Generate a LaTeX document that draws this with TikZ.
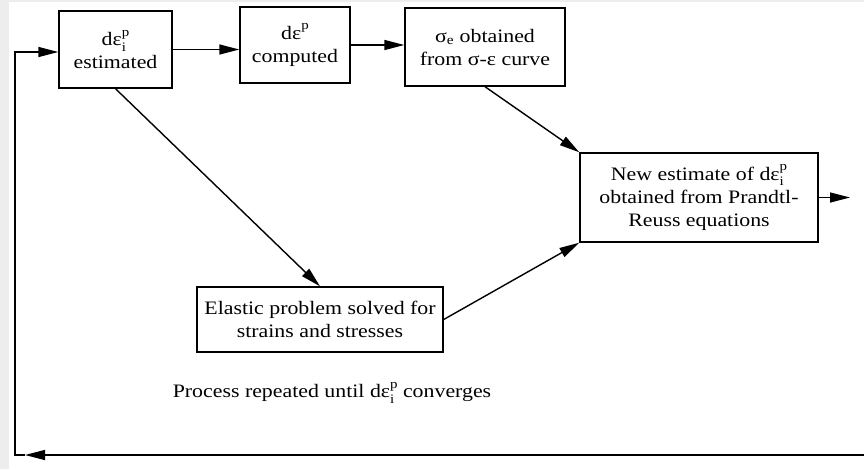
\documentclass[tikz,border=0pt]{standalone}
\usepackage{fontspec}
\setmainfont{Liberation Serif}[FakeStretch=1.15]
\usetikzlibrary{arrows.meta}

\newcommand{\supp}{\raisebox{0.5em}{\fontsize{13}{13}\selectfont p}}
\newcommand{\dei}{dε\rlap{\raisebox{-0.3em}{\fontsize{13}{13}\selectfont i}}\supp}

\begin{document}
\begin{tikzpicture}
	 [x=1pt,y=-1pt,
	  box/.style={draw,line width=1.4pt,align=center,inner sep=2pt,font=\fontsize{19}{23}\selectfont},
	  arr/.style={line width=1.4pt,-{Triangle[length=20pt,width=10pt]}}]

  \fill[black!7] (0,0) rectangle (864,469);
  \fill[white] (9,2) rectangle (864,469);
  \useasboundingbox (0,0) rectangle (864,469);

  \node[box,minimum width=113pt,minimum height=77pt] (b1) at (115.5,49.5) {\dei\\estimated};
    \node[box,minimum width=110pt,minimum height=76pt] (b2) at (295,45) {dε\supp\\computed};
    \node[box,minimum width=160pt,minimum height=78pt] (b3) at (485,47) {σ\textsubscript{e} obtained\\from σ-ε curve};
    \node[box,minimum width=238pt,minimum height=89pt] (b4) at (699,197.5) {New estimate of \dei\\obtained from Prandtl-\\Reuss equations};
    \node[box,minimum width=246pt,minimum height=65pt] (b5) at (320,319.5) {Elastic problem solved for\\strains and stresses};
    \node[font=\fontsize{19}{23}\selectfont] (note) at (332,393) {Process repeated until \dei\ converges};

    \coordinate (out) at (850,197.5);
    \coordinate (br) at (864,455);
    \coordinate (tip) at (25,455);
    \coordinate (bl) at (15,455);
    \coordinate (tl) at (15,52);

    \draw[arr] (b1.east) -- (b1.east -| b2.west);
    \draw[arr] (b2.east) -- (b2.east -| b3.west);
    \foreach \from/\to in {b1.south/b5.north,b3.south/b4.north west,b5.east/b4.south west,b4.east/out,br/tip}
    \draw[arr] (\from) -- (\to);

    \draw[arr] (tip) -- (bl) -- (tl) -- (tl -| b1.west);

\end{tikzpicture}
\end{document}
